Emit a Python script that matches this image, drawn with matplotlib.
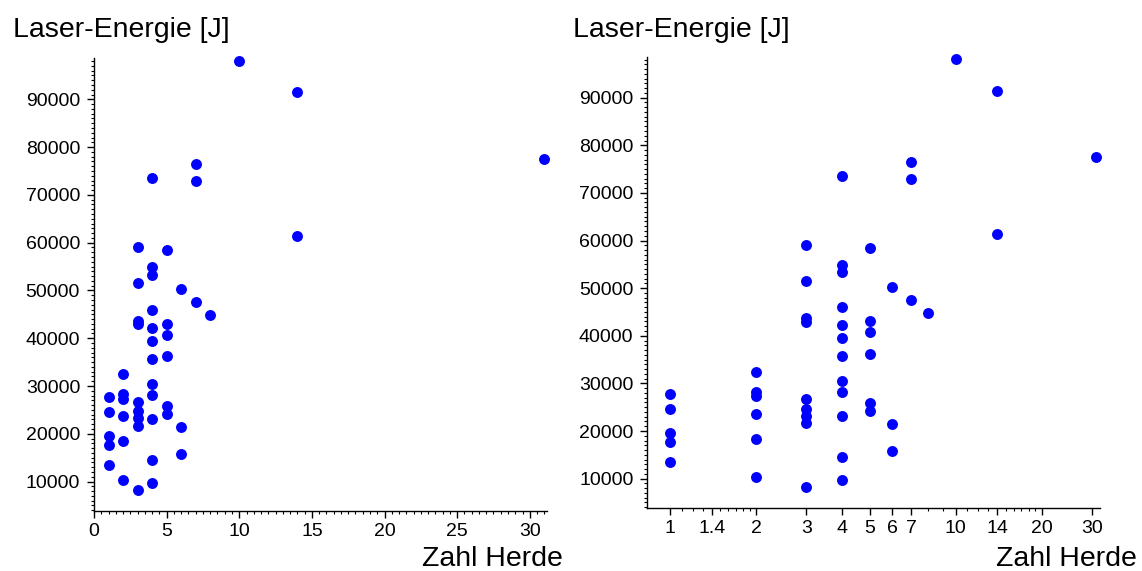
import matplotlib.pyplot as plt
from matplotlib.ticker import MultipleLocator, FixedLocator, FixedFormatter, NullFormatter

plt.rcParams['font.family'] = ['Liberation Sans', 'DejaVu Sans']

# Zahl der Herde je Patient und applizierte Laser-Energie
herde = [1, 1, 1, 1, 1,
         2, 2, 2, 2, 2, 2,
         3, 3, 3, 3, 3, 3, 3, 3, 3,
         4, 4, 4, 4, 4, 4, 4, 4, 4, 4, 4, 4,
         5, 5, 5, 5, 5, 5,
         6, 6, 6,
         7, 7, 7,
         8, 10, 14, 14, 31]
energie = [27700, 24650, 19500, 17600, 13400,
           32450, 28250, 27250, 23650, 18400, 10350,
           59100, 51500, 43700, 42950, 26650, 24700, 23250, 21650, 8250,
           73500, 54850, 53300, 46000, 42200, 39500, 35700, 30450, 28150, 23100, 14550, 9650,
           58400, 43000, 40750, 36200, 25850, 24150,
           50250, 21450, 15700,
           76450, 72950, 47600,
           44800, 98100, 91500, 61400, 77500]

y_lim = (3900, 98600)

log_major = [1, 1.4, 2, 3, 4, 5, 6, 7, 10, 14, 20, 30]
log_minor = [1.1, 1.2, 1.3, 1.5, 1.6, 1.7, 1.8, 1.9, 8, 9,
             11, 12, 13, 15, 16, 17, 18, 19]

DOT = "#0000ff"


def style_axes(ax):
    for s in ("top", "right"):
        ax.spines[s].set_visible(False)
    for s in ("left", "bottom"):
        ax.spines[s].set_linewidth(1.0)
    ax.set_ylim(*y_lim)
    ax.yaxis.set_major_locator(MultipleLocator(10000))
    ax.yaxis.set_minor_locator(MultipleLocator(1000))
    ax.tick_params(which="major", length=5, width=1.0, labelsize=14, color="black")
    ax.tick_params(which="minor", length=2, width=0.8, color="black")
    ax.tick_params(axis="y", which="major", pad=5)
    ax.tick_params(axis="x", which="major", pad=4)


fig = plt.figure(figsize=(11.42, 5.71), dpi=100)

# linear
ax1 = fig.add_axes([0.0823, 0.1056, 0.3969, 0.7923])
ax1.scatter(herde, energie, s=62, color=DOT, linewidths=0, zorder=3, clip_on=False)
ax1.set_xlim(0, 31.2)
ax1.xaxis.set_major_locator(MultipleLocator(5))
ax1.xaxis.set_minor_locator(MultipleLocator(0.5))
style_axes(ax1)

# logarithmisch
ax2 = fig.add_axes([0.5668, 0.1109, 0.3964, 0.7898])
ax2.scatter(herde, energie, s=62, color=DOT, linewidths=0, zorder=3, clip_on=False)
ax2.set_xscale("log")
ax2.set_xlim(0.833, 32.0)
ax2.xaxis.set_major_locator(FixedLocator(log_major))
ax2.xaxis.set_major_formatter(FixedFormatter([f"{v:g}" for v in log_major]))
ax2.xaxis.set_minor_locator(FixedLocator(log_minor))
ax2.xaxis.set_minor_formatter(NullFormatter())
style_axes(ax2)

for x0 in (12.7, 572.7):
    fig.text(x0 / 1142, 1 - 37.3 / 571, "Laser-Energie [J]", fontsize=20.5,
             ha="left", va="baseline")
for x1 in (563.3, 1137):
    fig.text(x1 / 1142, 1 - 566 / 571, "Zahl Herde", fontsize=20.5,
             ha="right", va="baseline")

fig.savefig("out.png", dpi=100)
